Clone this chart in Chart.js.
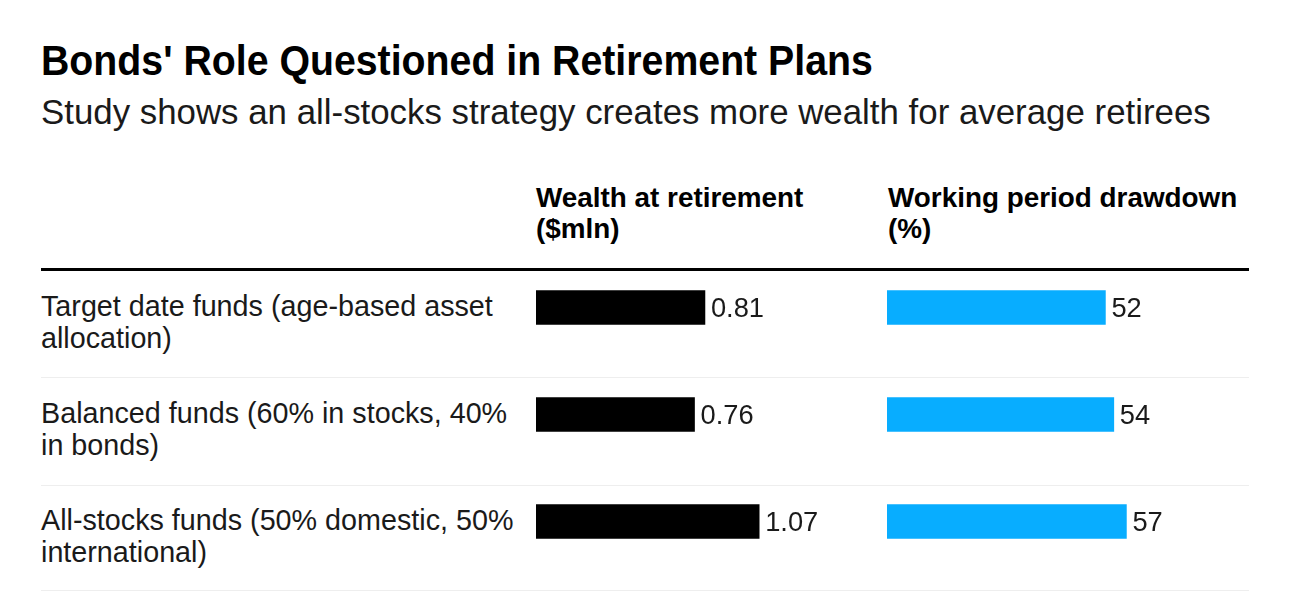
<!DOCTYPE html>
<html>
<head>
<meta charset="utf-8">
<script src="https://cdn.jsdelivr.net/npm/chart.js@4"></script>
<style>
  body { margin: 0; width: 1292px; height: 594px; background: #fff; position: relative; overflow: hidden;
         font-family: "Liberation Sans", Arial, sans-serif; color: #1a1a1a; }
  .txt { position: absolute; white-space: nowrap; }
  .negrita { font-weight: bold; color: #000; }
  .linea { position: absolute; left: 41px; width: 1208px; }
  .grafico { position: absolute; }
</style>
</head>
<body>
<div id="titulo" class="txt negrita">Bonds' Role Questioned in Retirement Plans</div>
<div id="subtitulo" class="txt">Study shows an all-stocks strategy creates more wealth for average retirees</div>
<div id="encabezados"></div>
<div id="etiquetas"></div>

<div class="linea" style="top:268px;height:3px;background:#000"></div>
<div class="linea" style="top:377px;height:1px;background:#eeeeee"></div>
<div class="linea" style="top:485px;height:1px;background:#eeeeee"></div>
<div class="linea" style="top:590px;height:1px;background:#eeeeee"></div>

<div class="grafico" style="left:536px;top:254px;width:292px;height:321px"><canvas id="chartRiqueza"></canvas></div>
<div class="grafico" style="left:887px;top:254px;width:336px;height:321px"><canvas id="chartCaida"></canvas></div>

<script>
// --- DATOS ---
const categorias = [
    ['Target date funds (age-based asset', 'allocation)'],
    ['Balanced funds (60% in stocks, 40%', 'in bonds)'],
    ['All-stocks funds (50% domestic, 50%', 'international)']
];
const encabezadoRiqueza = ['Wealth at retirement', '($mln)'];
const encabezadoCaida = ['Working period drawdown', '(%)'];
const riqueza = [0.81, 0.76, 1.07];
const caida = [52, 54, 57];
const etiquetasRiqueza = ['0.81', '0.76', '1.07'];
const etiquetasCaida = ['52', '54', '57'];

// --- TEXTOS ---
function medirTamano(el, ancho) {
    el.style.fontSize = '100px';
    const w = el.getBoundingClientRect().width;
    return 100 * ancho / w;
}
function colocar(el, x, base, fs) {
    el.style.fontSize = fs + 'px';
    el.style.lineHeight = fs + 'px';
    el.style.left = x + 'px';
    el.style.top = (base - 0.8465 * fs) + 'px';
}
function crearTexto(contenedor, texto, clase) {
    const d = document.createElement('div');
    d.className = 'txt ' + (clase || '');
    d.textContent = texto;
    contenedor.appendChild(d);
    return d;
}

const titulo = document.getElementById('titulo');
const fsTit = medirTamano(titulo, 832);
colocar(titulo, 41, 75, fsTit);
// la fuente original es algo más alta y estrecha
titulo.style.transformOrigin = '0 ' + (0.8465 * fsTit) + 'px';
titulo.style.transform = 'scaleY(1.08)';
const subtitulo = document.getElementById('subtitulo');
colocar(subtitulo, 41, 125, medirTamano(subtitulo, 1170));

const cont = document.getElementById('encabezados');
const h1 = crearTexto(cont, encabezadoRiqueza[0], 'negrita');
const h2 = crearTexto(cont, encabezadoCaida[0], 'negrita');
const fsEnc = (medirTamano(h1, 270) + medirTamano(h2, 346)) / 2;
colocar(h1, 536, 208, fsEnc);
colocar(crearTexto(cont, encabezadoRiqueza[1], 'negrita'), 536, 239, fsEnc);
colocar(h2, 888, 208, fsEnc);
colocar(crearTexto(cont, encabezadoCaida[1], 'negrita'), 888, 239, fsEnc);

const contEt = document.getElementById('etiquetas');
let fsEt = null;
categorias.forEach((lineas, i) => {
    lineas.forEach((linea, j) => {
        const d = crearTexto(contEt, linea);
        if (fsEt === null) fsEt = medirTamano(d, 452);
        colocar(d, 41, 316 + 107 * i + 32 * j, fsEt);
    });
});

// --- GRÁFICOS ---
const valoresAlFinal = {
    id: 'valoresAlFinal',
    afterDatasetsDraw(chart, args, opts) {
        const ctx = chart.ctx;
        ctx.save();
        ctx.font = opts.tamano + 'px "Liberation Sans", Arial, sans-serif';
        ctx.fillStyle = '#1a1a1a';
        ctx.textBaseline = 'middle';
        chart.getDatasetMeta(0).data.forEach((barra, i) => {
            ctx.fillText(opts.textos[i], barra.x + 6, barra.y + 2);
        });
        ctx.restore();
    }
};

function renderizarBarras(canvasId, valores, textos, color, maximo) {
    const ctx = document.getElementById(canvasId).getContext('2d');
    return new Chart(ctx, {
        type: 'bar',
        data: {
            labels: categorias,
            datasets: [{ data: valores, backgroundColor: color, barThickness: 34 }]
        },
        options: {
            indexAxis: 'y',
            responsive: true, maintainAspectRatio: false,
            animation: false,
            layout: { padding: 0 },
            scales: {
                x: { display: false, min: 0, max: maximo },
                y: { display: false }
            },
            plugins: {
                legend: { display: false },
                tooltip: { enabled: false },
                valoresAlFinal: { textos: textos, tamano: fsEt * 0.95 }
            }
        },
        plugins: [valoresAlFinal]
    });
}

renderizarBarras('chartRiqueza', riqueza, etiquetasRiqueza, '#000000', 1.4);
renderizarBarras('chartCaida', caida, etiquetasCaida, '#08adff', 80);
</script>
</body>
</html>
